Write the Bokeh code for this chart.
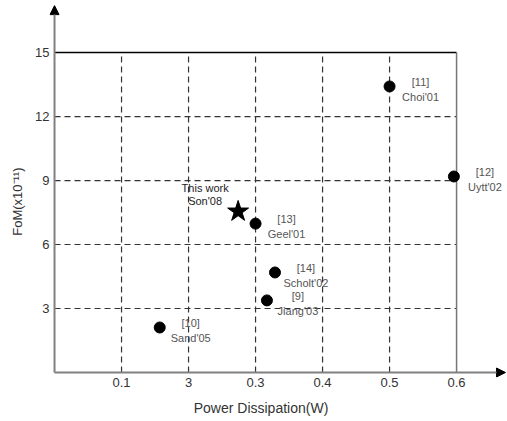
from bokeh.plotting import figure
from bokeh.models import FixedTicker, Arrow, NormalHead, ColumnDataSource
from bokeh.core.properties import value
from bokeh.embed import file_html
from bokeh.resources import INLINE

# data
ref_x = [0.157, 0.30, 0.329, 0.317, 0.50, 0.596]
ref_y = [2.11, 6.98, 4.69, 3.38, 13.41, 9.19]
ref_labels = ["[10]\nSand'05", "[13]\nGeel'01", "[14]\nScholt'02",
              "[9]\nJiang'03", "[11]\nChoi'01", "[12]\nUytt'02"]
this_x = [0.274]
this_y = [7.55]
this_label = ["This work\nSon'08"]
x_ticks = [0.1, 0.2, 0.3, 0.4, 0.5, 0.6]
x_tick_labels = ["0.1", "3", "0.3", "0.4", "0.5", "0.6"]
y_ticks = [3, 6, 9, 12, 15]
y_tick_labels = ["3", "6", "9", "12", "15"]
x_max = 0.6
y_max = 15

FONT = "Liberation Sans"

X0, X1 = -0.0075, 0.676
Y0, Y1 = -0.234, 17.44

p = figure(width=507, height=421, output_backend="svg", toolbar_location=None,
           x_range=(X0, X1), y_range=(Y0, Y1),
           min_border_left=49, min_border_right=0, min_border_top=0, min_border_bottom=44)
p.outline_line_color = None
p.background_fill_color = "white"

# axes
p.xaxis.ticker = FixedTicker(ticks=x_ticks)
p.xaxis.major_label_overrides = {t: l for t, l in zip(x_ticks, x_tick_labels)}
p.yaxis.ticker = FixedTicker(ticks=y_ticks)
p.yaxis.major_label_overrides = {t: l for t, l in zip(y_ticks, y_tick_labels)}
for ax in (p.xaxis[0], p.yaxis[0]):
    ax.axis_line_color = None
    ax.major_tick_line_color = None
    ax.minor_tick_line_color = None
    ax.major_tick_out = 0
    ax.major_tick_in = 0
    ax.minor_tick_out = 0
    ax.minor_tick_in = 0
    ax.major_label_text_font = FONT
    ax.major_label_text_font_size = "13px"
    ax.major_label_text_color = "#333333"
    ax.axis_label_text_font = FONT
    ax.axis_label_text_font_size = "13px"
    ax.axis_label_text_font_style = "normal"
    ax.axis_label_text_color = "#333333"
p.xaxis.axis_label = "Power Dissipation(W)" + "\u00a0" * 9
p.xaxis.axis_label_text_font_size = "14px"
p.yaxis.axis_label = "FoM(x10\u207b\u00b9\u00b9)" + "\u00a0" * 7
p.xaxis.major_label_standoff = 0
p.xaxis.axis_label_standoff = 10
p.yaxis.major_label_standoff = 0
p.yaxis.axis_label_standoff = 7

# no built-in grid: dashed lines bounded by the frame box
p.xgrid.visible = False
p.ygrid.visible = False
vx = [t for t in x_ticks if t < x_max]
hy = [t for t in y_ticks if t < y_max]
p.segment(x0=vx, y0=[0] * len(vx), x1=vx, y1=[y_max] * len(vx),
          line_color="#333333", line_dash="6 4", line_width=1.2)
p.segment(x0=[0] * len(hy), y0=hy, x1=[x_max] * len(hy), y1=hy,
          line_color="#333333", line_dash="6 4", line_width=1.2)

# frame lines at top and right
p.line(x=[0, x_max], y=[y_max, y_max], line_color="black", line_width=1.5)
p.line(x=[x_max, x_max], y=[0, y_max], line_color="#777777", line_width=1.5)

# axis arrows
p.add_layout(Arrow(x_start=0, y_start=0, x_end=0, y_end=17.2,
                   line_color="#808080", line_width=2,
                   end=NormalHead(size=9, fill_color="black", line_color="black", line_width=1)))
p.add_layout(Arrow(x_start=0, y_start=0, x_end=0.673, y_end=0,
                   line_color="#808080", line_width=2,
                   end=NormalHead(size=9, fill_color="black", line_color="black", line_width=1)))

# points
src = ColumnDataSource(dict(x=ref_x, y=ref_y, label=ref_labels))
p.scatter("x", "y", source=src, size=11, color="black")
p.text("x", "y", text="label", source=src, x_offset=31, y_offset=3,
       text_align="center", text_baseline="middle", text_font=value(FONT),
       text_font_size="11px", text_color="#555555", text_line_height=1.2)

src2 = ColumnDataSource(dict(x=this_x, y=this_y, label=this_label))
p.scatter("x", "y", source=src2, marker="star", size=22, color="black")
p.text("x", "y", text="label", source=src2, x_offset=-33, y_offset=-17,
       text_align="center", text_baseline="middle", text_font=value(FONT),
       text_font_size="11px", text_color="#222222", text_line_height=1.1)

open("out.html", "w").write(file_html(p, INLINE))
